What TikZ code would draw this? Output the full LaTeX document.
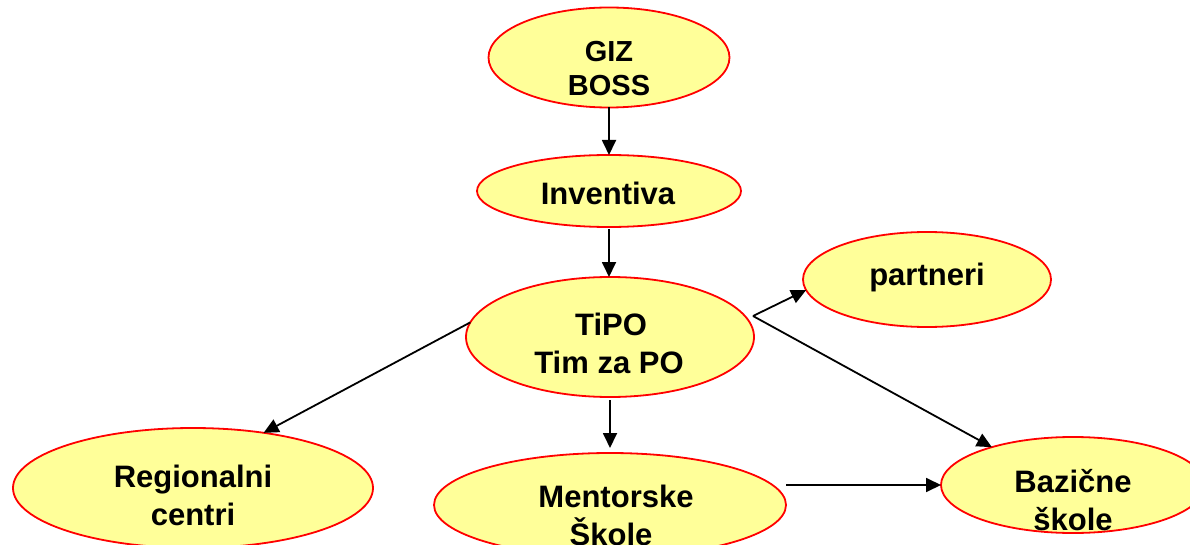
\documentclass[tikz,border=0pt]{standalone}
\usepackage{fontspec}
\setmainfont{Liberation Sans}
\usetikzlibrary{arrows.meta,shapes.geometric}
\definecolor{ellfill}{RGB}{255,255,153}
\definecolor{ellline}{RGB}{255,0,0}
\tikzset{
  ell/.style={ellipse,draw=ellline,fill=ellfill,line width=1.8pt,inner sep=0pt,outer sep=0pt},
  txt/.style={anchor=base,inner sep=0pt,font=\fontsize{31}{37}\selectfont\bfseries},
  txts/.style={anchor=base,inner sep=0pt,font=\fontsize{29}{35}\selectfont\bfseries},
  arr/.style={line width=1.8pt,-{Triangle[length=15pt,width=14pt]}}
}
\begin{document}
\begin{tikzpicture}[x=1pt,y=-1pt]
\useasboundingbox (0,0) rectangle (1190,545);
\fill[white] (0,0) rectangle (1190,545);
\begin{scope}
\clip (0,0) rectangle (1190,545);
% ellipses
\node[ell,minimum width=241pt,minimum height=100pt] (giz) at (609,57.5) {};
\node[ell,minimum width=264pt,minimum height=72pt] (inventiva) at (609,191) {};
\node[ell,minimum width=288pt,minimum height=120pt] (tipo) at (610,337) {};
\node[ell,minimum width=248pt,minimum height=95pt] (partneri) at (927,279.5) {};
\node[ell,minimum width=360pt,minimum height=120pt] (regional) at (193,488) {};
\node[ell,minimum width=352pt,minimum height=104pt] (mentorske) at (610,505) {};
\node[ell,minimum width=264pt,minimum height=96pt] (bazicne) at (1073,485) {};
% texts
\node[txts] (gizA) at (609,62) {GIZ};
\node[txts] (gizB) at (609,96) {BOSS};
\node[txt] (invA) at (608,205) {Inventiva};
\node[txt] (tipoA) at (611,335) {TiPO};
\node[txt] (tipoB) at (609,373) {Tim za PO};
\node[txt] (partA) at (927,285) {partneri};
\node[txt] (regA) at (193,487) {Regionalni};
\node[txt] (regB) at (193,525) {centri};
\node[txt] (menA) at (616,507) {Mentorske};
\node[txt] (menB) at (611,545) {Škole};
\node[txt] (bazA) at (1073,492) {Bazične};
\node[txt] (bazB) at (1073,530) {škole};
% connectors
\coordinate (fork) at (753,316);
\draw[arr] (giz.south) -- (inventiva.north);
\draw[arr,shorten <=2pt] (inventiva.south) -- (tipo.north -| inventiva.south);
\draw[arr,shorten <=3pt,shorten >=5pt] (tipo.south) -- (mentorske.north);
\draw[arr] (tipo.174) -- (regional.38);
\draw[arr] (fork) -- (partneri.185);
\draw[arr] (fork) -- (bazicne.155);
\draw[arr] (mentorske.east |- bazicne.west) -- (bazicne.west);
\end{scope}
\end{tikzpicture}
\end{document}
